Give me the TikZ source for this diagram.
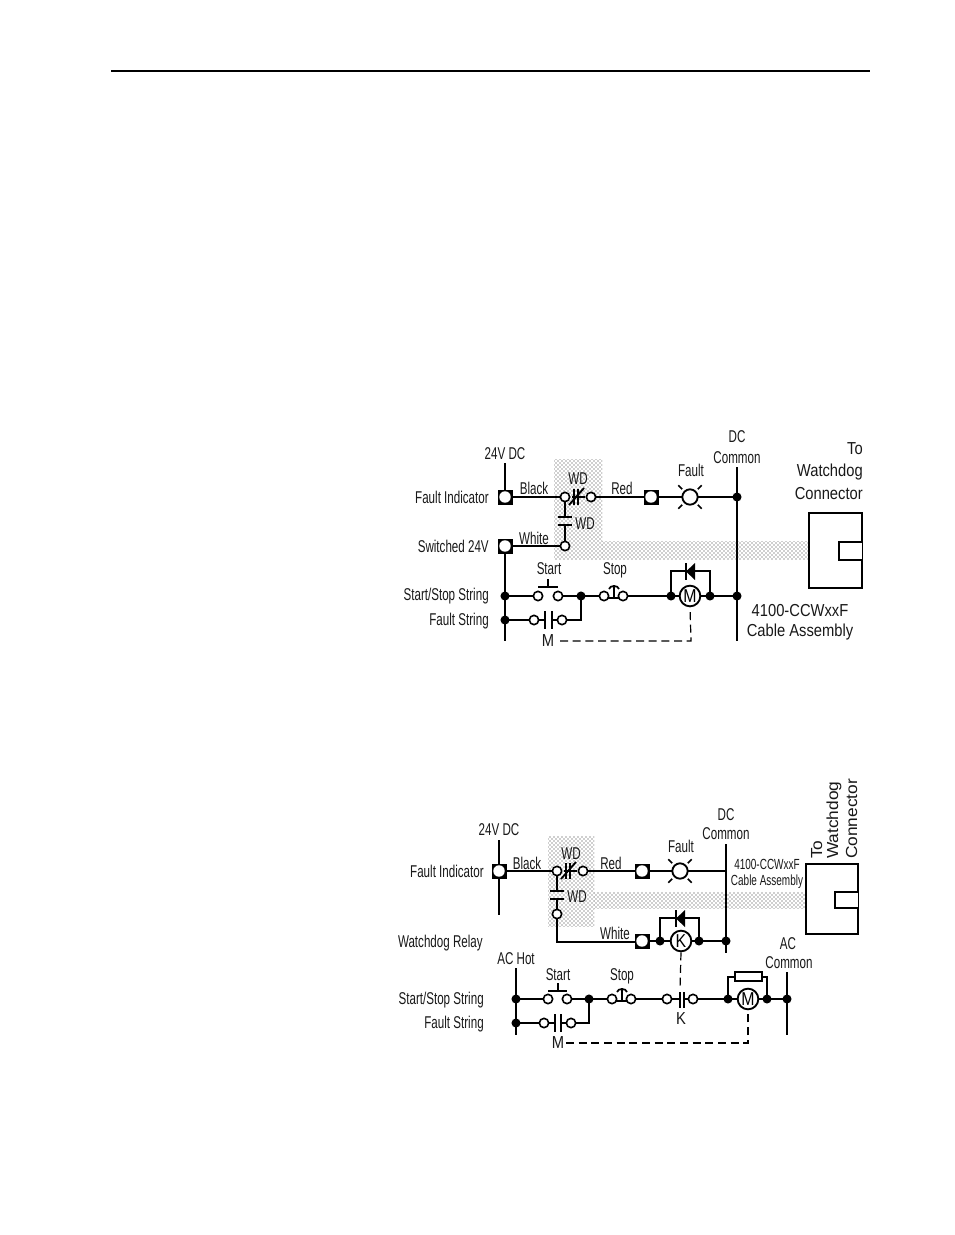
\documentclass[tikz,border=0pt]{standalone}
\usepackage{fontspec}
\setmainfont[FakeStretch=0.68]{Liberation Sans}
\newfontfamily\midft[FakeStretch=0.85]{Liberation Sans}
\newfontfamily\wideft[FakeStretch=1.08]{Liberation Sans}
\usetikzlibrary{patterns}
\tikzset{x=0.75pt,y=-0.75pt,
 wire/.style={line width=1.5pt,line cap=butt},
 termhole/.style={circle,fill=white,draw=none,minimum size=8.6pt,inner sep=0pt},
 dot/.style={circle,fill=black,draw=none,minimum size=6.8pt,inner sep=0pt},
 ocirc/.style={circle,fill=white,draw=black,line width=1.2pt,minimum size=7pt,inner sep=0pt},
 lamp/.style={circle,fill=white,draw=black,line width=1.4pt,minimum size=11.5pt,inner sep=0pt},
 coilc/.style={circle,fill=white,draw=black,line width=1.4pt,minimum size=15.5pt,inner sep=0pt,font=\midft\fontsize{14}{14}\selectfont},
 lbl/.style={inner sep=0pt,font=\fontsize{12.8}{14}\selectfont,text=black!90},
 mlbl/.style={inner sep=0pt,font=\midft\fontsize{13}{14}\selectfont,text=black!90},
 wlbl/.style={inner sep=0pt,font=\wideft\fontsize{12}{14}\selectfont,text=black!90},
 slbl/.style={inner sep=0pt,font=\fontsize{11}{12}\selectfont,text=black!90},
 ldash/.style={line width=0.9pt,dash pattern=on 6pt off 3.5pt},
 boxl/.style={draw=black,line width=1.3pt,fill=white},
 hatch/.style={pattern=crosshatch dots,pattern color=black!80},
}
\newcommand{\tnode}[2]{%
 \node[draw=black,fill=black,minimum size=10.5pt,inner sep=0pt] (#1) at #2 {};
 \node[termhole] at #2 {};}
\begin{document}
\begin{tikzpicture}
\useasboundingbox (0,0) rectangle (954,1235);
\fill[white] (0,0) rectangle (954,1235);
\coordinate (ruleL) at (111,71); \coordinate (ruleR) at (870,71);
\draw[line width=1.1pt] (ruleL) -- (ruleR);
% ---------- top diagram -------------
\fill[hatch] (554,459) rectangle (602,559);
\fill[hatch] (602,541) rectangle (809,559);
\coordinate (a24) at (505,463); \coordinate (cTop) at (737,467); \coordinate (cBot) at (737,641); \coordinate (railBot) at (505,641);
\draw[wire] (a24) -- (505,497);
\draw[wire] (505,497) -- (565,497);
\draw[wire] (591,497) -- (737,497);
\draw[wire] (cTop) -- (cBot);
\draw[wire] (505,546) -- (railBot);
\draw[wire] (505,546) -- (565,546);
\draw[wire] (565,497) -- (565,517); \draw[wire] (565,525) -- (565,546);
\draw[line width=1.5pt] (558,517) -- (572,517); \draw[line width=1.5pt] (558,525) -- (572,525);
\draw[wire] (505,596) -- (538,596); \draw[wire] (558,596) -- (604,596); \draw[wire] (623,596) -- (737,596);
\draw[wire] (505,620) -- (545,620); \draw[wire] (552,620) -- (581,620) -- (581,596);
\draw[wire] (671,596) -- (671,571) -- (710,571) -- (710,596);
\fill (695,563) -- (695,580) -- (686,571.5) -- cycle;
\draw[line width=1.9pt] (686,563) -- (686,580);
\node[lamp] (lamp1) at (690,497) {};
\foreach \a in {45,135,225,315}{\draw[line width=1.3pt] (690,497)++(\a:11) -- ++(\a:5.5);}
\tnode{t1}{(505,497)} \tnode{t2}{(505,546)} \tnode{t3}{(651,497)}
\node[ocirc] at (565,497) {}; \node[ocirc] at (591,497) {}; \node[ocirc] at (565,546) {};
\draw[line width=1.5pt] (572,497) -- (585,497);
\draw[line width=1.4pt] (574,489) -- (574,505);
\draw[line width=1.4pt] (578,489) -- (578,505);
\draw[line width=1.4pt] (569,505) -- (584,488);
\draw[line width=1.3pt] (604,598) -- (623,598);
\node[dot] at (505,596) {}; \node[dot] at (505,620) {}; \node[dot] at (581,596) {};
\node[dot] at (737,497) {}; \node[dot] at (737,596) {}; \node[dot] at (671,596) {}; \node[dot] at (710,596) {};
\node[ocirc] at (538,596) {}; \node[ocirc] at (558,596) {}; \node[ocirc] at (604,596) {}; \node[ocirc] at (623,596) {};
\node[ocirc] at (534,620) {}; \node[ocirc] at (562,620) {};
\draw[line width=1.3pt] (538,587) -- (558,587); \draw[line width=1.3pt] (548,587) -- (548,579);
\draw[line width=1.4pt] (614,598) -- (614,585);
\draw[line width=1.3pt] (609,589) .. controls (610,585) and (618,585) .. (619,589);
\draw[line width=1.5pt] (545,611) -- (545,629); \draw[line width=1.5pt] (552,611) -- (552,629);
\node[coilc] (M1) at (690,596) {M};
\coordinate (d1) at (560,641);
\draw[ldash] (d1) -- (691,641) -- (M1.south);
\node[lbl] at (505,454) {24V DC};
\node[lbl,anchor=east] at (489,497) {Fault Indicator};
\node[lbl,anchor=east] at (489,546) {Switched 24V};
\node[lbl,anchor=east] at (489,596.5) {Start/Stop String};
\node[lbl,anchor=east] at (489,621.5) {Fault String};
\node[lbl] at (534,488) {Black};
\node[lbl] at (534,538) {White};
\node[lbl] at (578,479) {WD};
\node[lbl] at (585,524) {WD};
\node[lbl] at (622,488) {Red};
\node[lbl] at (691,470) {Fault};
\node[lbl] at (737,437) {DC};
\node[lbl] at (737,458) {Common};
\node[lbl] at (549,569) {Start};
\node[lbl] at (615,570) {Stop};
\node[mlbl] at (548,641) {M};
\node[mlbl,anchor=east] at (863,449) {To};
\node[mlbl,anchor=east] at (863,472) {Watchdog};
\node[mlbl,anchor=east] at (863,494) {Connector};
\node[mlbl] at (800,611) {4100-CCWxxF};
\node[mlbl] at (800,632) {Cable Assembly};
\draw[boxl] (809,513) rectangle (862,588);
\draw[boxl] (862,542) -- (839,542) -- (839,560) -- (862,560);
% ---------- bottom diagram ----------
\fill[hatch] (548,836) rectangle (594,926);
\fill[hatch] (594,892) rectangle (806,908);
\coordinate (b24) at (499,840); \coordinate (b24e) at (499,915);
\coordinate (dTop) at (726,844); \coordinate (dBot) at (726,953);
\draw[wire] (b24) -- (b24e);
\draw[wire] (499,871) -- (557,871);
\draw[wire] (583,871) -- (726,871);
\draw[wire] (dTop) -- (dBot);
\draw[wire] (557,871) -- (557,891); \draw[wire] (557,899) -- (557,942) -- (642,942);
\draw[line width=1.5pt] (550,891) -- (564,891); \draw[line width=1.5pt] (550,899) -- (564,899);
\draw[wire] (642,941) -- (726,941);
\draw[wire] (660,941) -- (660,918) -- (699,918) -- (699,941);
\fill (685,910) -- (685,927) -- (676,918.5) -- cycle;
\draw[line width=1.9pt] (676,910) -- (676,927);
\node[lamp] (lamp2) at (680,871) {};
\foreach \a in {45,135,225,315}{\draw[line width=1.3pt] (680,871)++(\a:11) -- ++(\a:5.5);}
\tnode{t4}{(499,871)} \tnode{t5}{(642,871)} \tnode{t6}{(642,941)}
\node[ocirc] at (557,871) {}; \node[ocirc] at (583,871) {}; \node[ocirc] at (557,914) {};
\draw[line width=1.5pt] (564,871) -- (577,871);
\draw[line width=1.4pt] (566,863) -- (566,879);
\draw[line width=1.4pt] (570,863) -- (570,879);
\draw[line width=1.4pt] (561,879) -- (576,862);
\node[dot] at (660,941) {}; \node[dot] at (699,941) {}; \node[dot] at (726,941) {};
\node[coilc] (K1) at (681,941) {K};
\coordinate (acH) at (516,968); \coordinate (acHb) at (516,1035);
\coordinate (acC) at (787,972); \coordinate (acCb) at (787,1035);
\draw[wire] (acH) -- (acHb);
\draw[wire] (acC) -- (acCb);
\draw[wire] (516,999) -- (548,999); \draw[wire] (567,999) -- (612,999);
\draw[wire] (631,999) -- (680,999);
\draw[wire] (684,999) -- (787,999);
\draw[wire] (516,1023) -- (555,1023); \draw[wire] (561,1023) -- (589,1023) -- (589,999);
\draw[wire] (728,999) -- (728,977) -- (767,977) -- (767,999);
\draw[boxl] (735,972) rectangle (762,981);
\draw[line width=1.3pt] (612,1001) -- (631,1001);
\node[dot] at (516,999) {}; \node[dot] at (516,1023) {}; \node[dot] at (589,999) {};
\node[dot] at (728,999) {}; \node[dot] at (767,999) {}; \node[dot] at (787,999) {};
\node[ocirc] at (548,999) {}; \node[ocirc] at (567,999) {}; \node[ocirc] at (612,999) {}; \node[ocirc] at (631,999) {};
\node[ocirc] at (544,1023) {}; \node[ocirc] at (571,1023) {}; \node[ocirc] at (667,999) {}; \node[ocirc] at (693,999) {};
\draw[line width=1.3pt] (548,991) -- (567,991); \draw[line width=1.3pt] (558,991) -- (558,983);
\draw[line width=1.4pt] (622,1001) -- (622,988);
\draw[line width=1.3pt] (617,992) .. controls (618,988) and (626,988) .. (627,992);
\draw[line width=1.5pt] (555,1014) -- (555,1032); \draw[line width=1.5pt] (561,1014) -- (561,1032);
\draw[line width=1.5pt] (680,992) -- (680,1008); \draw[line width=1.5pt] (684,992) -- (684,1008);
\node[coilc] (M2) at (748,999) {M};
\coordinate (d2) at (566,1043); \coordinate (kc) at (680,990);
\draw[ldash] (d2) -- (748,1043) -- (M2.south);
\draw[ldash] (K1.south) -- (kc);
\node[lbl] at (499,830) {24V DC};
\node[lbl,anchor=east] at (484,871) {Fault Indicator};
\node[lbl,anchor=east] at (483,943.5) {Watchdog Relay};
\node[lbl,anchor=east] at (484,1000.5) {Start/Stop String};
\node[lbl,anchor=east] at (484,1024.5) {Fault String};
\node[lbl] at (527,863) {Black};
\node[lbl] at (615,933) {White};
\node[lbl] at (571,854) {WD};
\node[lbl] at (577,897) {WD};
\node[lbl] at (611,863) {Red};
\node[lbl] at (681,846) {Fault};
\node[lbl] at (726,815) {DC};
\node[lbl] at (726,834) {Common};
\node[lbl] at (516,959) {AC Hot};
\node[lbl] at (558,975) {Start};
\node[lbl] at (622,976) {Stop};
\node[mlbl] at (681,1019) {K};
\node[mlbl] at (558,1043) {M};
\node[lbl] at (788,944) {AC};
\node[lbl] at (789,963) {Common};
\node[slbl] at (767,864) {4100-CCWxxF};
\node[slbl] at (767,882) {Cable Assembly};
\draw[boxl] (806,864) rectangle (858,934);
\draw[boxl] (858,892) -- (835,892) -- (835,908) -- (858,908);
\node[wlbl,rotate=90,anchor=base west] at (822,859) {To};
\node[wlbl,rotate=90,anchor=base west] at (838,859) {Watchdog};
\node[wlbl,rotate=90,anchor=base west] at (857,859) {Connector};
\end{tikzpicture}
\end{document}
